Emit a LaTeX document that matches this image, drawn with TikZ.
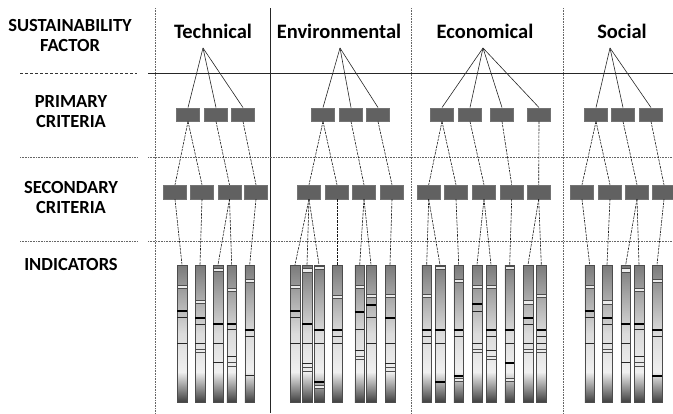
\documentclass[tikz,border=0pt]{standalone}
\usepackage{fontspec}
\setmainfont{Carlito}
\pgfdeclareverticalshading{indshade}{100bp}{color(0bp)=(black!75); color(25bp)=(black!75); color(36bp)=(black!6); color(50bp)=(black!14); color(64bp)=(black!35); color(75bp)=(black!52); color(100bp)=(black!52)}
\tikzset{
  lbl/.style={font=\fontsize{18.5}{20}\selectfont\bfseries, align=center, inner sep=0pt},
  head/.style={font=\fontsize{20.5}{24}\selectfont\bfseries, inner sep=0pt, anchor=base},
  crit/.style={draw=black!55, line width=0.4pt, fill=black!62, minimum width=23pt, minimum height=13.5pt, inner sep=0pt},
  indbar/.style={draw=black!70, line width=0.5pt, shading=indshade, minimum width=9.5pt, minimum height=137pt, inner sep=0pt},
  fan/.style={black!85, line width=0.6pt},
  link/.style={black!90, dash pattern=on 2.5pt off 1pt, line width=0.6pt},
  thickbar/.style={black, line width=1.8pt},
  thinbar/.style={black!85, line width=0.8pt},
  dblbar/.style={fill=black!8, draw=black!70, line width=0.5pt},
  sepdot/.style={black!60, densely dotted, line width=0.6pt}
}
% name, x, thick stripes, thin stripes, double stripes
\newcommand{\indbar}[5]{%
  \node[indbar] (#1) at (#2,333.5) {};
  \foreach \s in {#4} \draw[thinbar] ({#2-4.75},\s) -- ({#2+4.75},\s);
  \foreach \s in {#3} \draw[thickbar] ({#2-4.75},\s) -- ({#2+4.75},\s);
  \foreach \s in {#5} \draw[dblbar] ({#2-4.75},{\s-1.6}) rectangle ({#2+4.75},{\s+1.6});
}
\begin{document}
\begin{tikzpicture}[x=1pt,y=-1pt]
	\useasboundingbox (0,0) rectangle (673,413);
	% grid
	\draw[sepdot] (155,8) -- (155,413); \draw[black!85, line width=0.6pt] (270,8) -- (270,413);
	\draw[sepdot] (411,8) -- (411,413); \draw[sepdot] (563,8) -- (563,413);
	\draw[black!85, line width=0.7pt] (148,73) -- (673,73); \draw[black!80, densely dashed] (20,73) -- (137,73);
	\draw[sepdot] (148,157) -- (673,157); \draw[sepdot] (20,157) -- (137,157);
	\draw[sepdot] (148,241) -- (673,241); \draw[sepdot] (20,241) -- (137,241);
	% row labels
	\node[lbl] (lfac) at (70,35.5) {SUSTAINABILITY\\FACTOR};
	\node[lbl] (lpri) at (71,111.7) {PRIMARY\\CRITERIA};
	\node[lbl] (lsec) at (71,197.5) {SECONDARY\\CRITERIA};
	\node[lbl] (lind) at (71,264.8) {INDICATORS};
	% factors
	\node[head] (tech) at (213,38) {Technical}; \coordinate (tf) at (203,48);
	\node[head] (env) at (339,38) {Environmental}; \coordinate (ef) at (340,48);
	\node[head] (eco) at (485,38) {Economical}; \coordinate (cf) at (483,48);
	\node[head] (soc) at (622,38) {Social}; \coordinate (sf) at (610,48);
	% primary criteria
	\foreach \n/\x in {tp1/188, tp2/216, tp3/243, ep1/323, ep2/351, ep3/378, cp1/442, cp2/470, cp3/502, cp4/539, sp1/596, sp2/623, sp3/651}
	  \node[crit] (\n) at (\x,114.5) {};
	% secondary criteria
	\foreach \n/\x in {ts1/175, ts2/202, ts3/229.5, ts4/256, es1/309, es2/337, es3/364, es4/392, cs1/428.7, cs2/456, cs3/484, cs4/511.7, cs5/538.7, ss1/582, ss2/610, ss3/637, ss4/664}
	  \node[crit, minimum height=14pt] (\n) at (\x,192) {};
	% indicators
	\indbar{ti1}{182}{311}{317.7,343.3}{286.7}
	\indbar{ti2}{200}{317.7}{324.3,343.3}{302,351}
	\indbar{ti3}{218}{324.3}{343.3,362.7}{270}
	\indbar{ti4}{231.7}{324.3}{329,356}{290,364.3}
	\indbar{ti5}{249.7}{330}{336.7,375.7}{280.7}
	\indbar{ei1}{295}{311}{317.7,343.3}{286.7}
	\indbar{ei2}{307}{324.3}{343.3,363.3}{270.3,369.3}
	\indbar{ei3}{319}{330,382.3}{343.3}{267.7,386.7}
	\indbar{ei4}{337}{330}{336.7,343.3}{296.7}
	\indbar{ei5}{359.7}{312}{329,350}{286.7,357.7}
	\indbar{ei6}{371}{305}{317.7,343.3}{296}
	\indbar{ei7}{390}{317.7}{343.3,363.3}{296,369.3}
	\indbar{ci1}{426.7}{330}{336.7,343.3}{296}
	\indbar{ci2}{440}{330,382}{343.3}{267.7}
	\indbar{ci3}{458.7}{330,375.7}{336.7}{280.7,380}
	\indbar{ci4}{477}{304.3}{311,343.3}{286.7,351}
	\indbar{ci5}{491}{330}{336.7,350}{286.7,357.7}
	\indbar{ci6}{509.7}{330,362.7}{343.3}{267.7,380}
	\indbar{ci7}{528}{317.7}{324.3,343.3}{302.3,351}
	\indbar{ci8}{541.3}{330}{336.7,343.3}{296,351}
	\indbar{si1}{589.7}{311}{317.7,343.3}{286.7}
	\indbar{si2}{607}{317.7}{324.3,343.3}{302.3,351}
	\indbar{si3}{625.7}{324.3}{343.3,362.7}{270.3}
	\indbar{si4}{639}{324.3}{329,356}{290,364.3}
	\indbar{si5}{657}{330,375.7}{336.7}{280.7}
	% factor -> primary
	\foreach \p in {tp1,tp2,tp3} \draw[fan] (tf) -- (\p.north);
	\foreach \p in {ep1,ep2,ep3} \draw[fan] (ef) -- (\p.north);
	\foreach \p in {cp1,cp2,cp3,cp4} \draw[fan] (cf) -- (\p.north);
	\foreach \p in {sp1,sp2,sp3} \draw[fan] (sf) -- (\p.north);
	% primary -> secondary
	\foreach \a/\b in {tp1/ts1, tp1/ts2, tp2/ts3, tp3/ts4, ep1/es1, ep1/es2, ep2/es3, ep3/es4, cp1/cs1, cp1/cs2, cp2/cs3, cp3/cs4, cp4/cs5, sp1/ss1, sp1/ss2, sp2/ss3, sp3/ss4}
	  \draw[link] (\a.south) -- (\b.north);
	% secondary -> indicators
	\foreach \a/\b in {ts1/ti1, ts2/ti2, ts3/ti3, ts3/ti4, ts4/ti5, es1/ei1, es1/ei2, es1/ei3, es2/ei4, es3/ei5, es3/ei6, es4/ei7, cs1/ci1, cs1/ci2, cs2/ci3, cs3/ci4, cs3/ci5, cs4/ci6, cs5/ci7, cs5/ci8, ss1/si1, ss2/si2, ss3/si3, ss3/si4, ss4/si5}
	  \draw[link] (\a.south) -- (\b.north);
\end{tikzpicture}
\end{document}
